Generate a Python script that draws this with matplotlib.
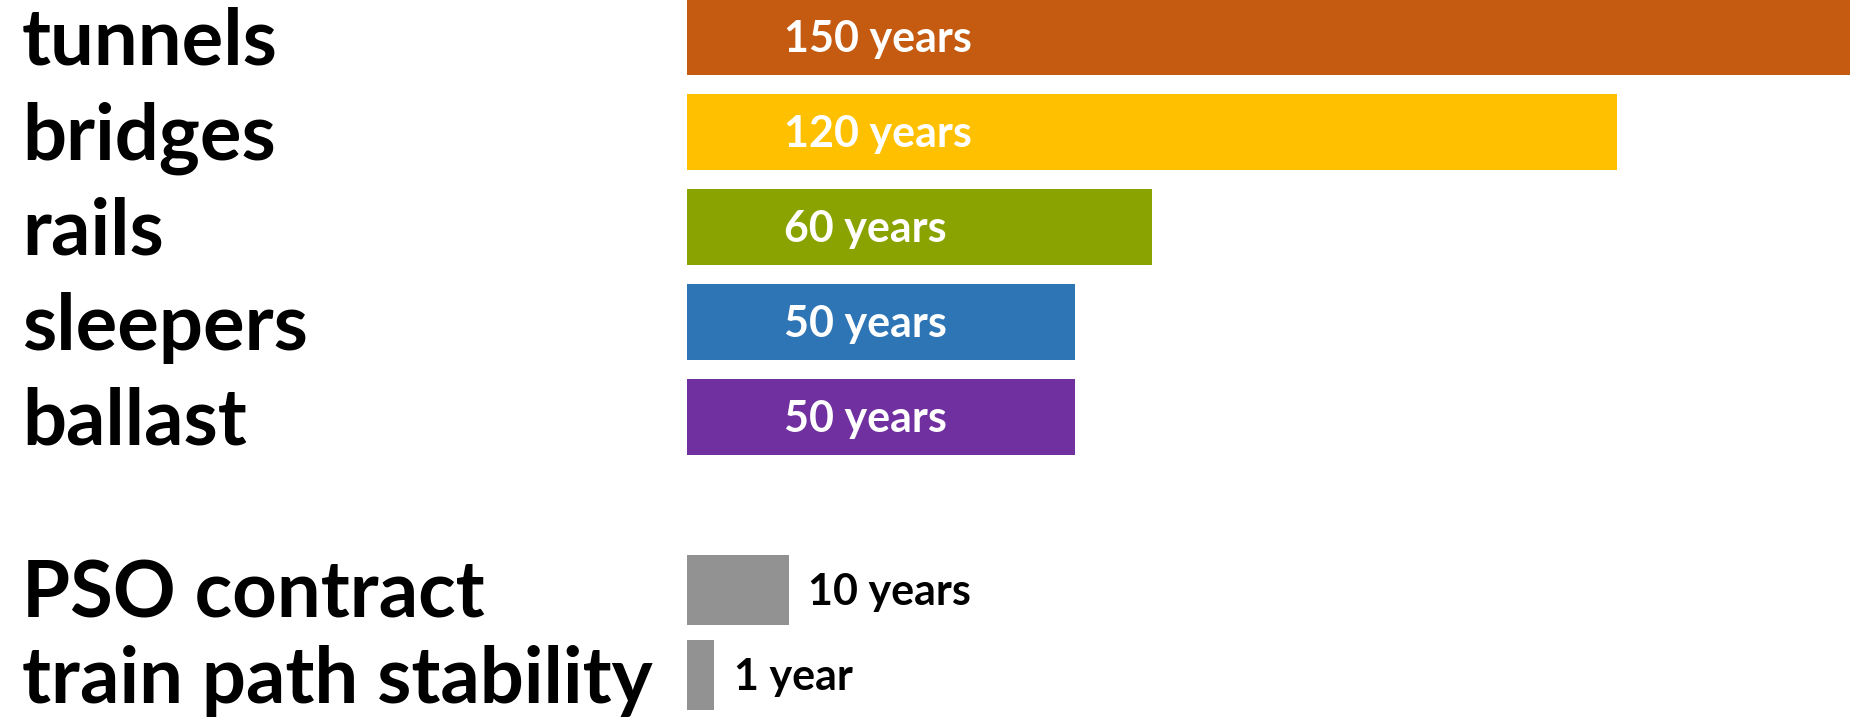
import matplotlib.pyplot as plt
from matplotlib import transforms

# asset lifetimes (top group, drawn to scale)
assets = ["tunnels", "bridges", "rails", "sleepers", "ballast"]
asset_years = [150, 120, 60, 50, 50]
asset_colors = ["#C55A11", "#FFC000", "#8BA300", "#2E75B6", "#7030A0"]

# commitments (bottom group, bars drawn wider than scale in the original)
commit = ["PSO contract", "train path stability"]
commit_years = [10, 1]
commit_bar_len = [13.1, 3.5]
commit_labels = ["10 years", "1 year"]

W, H = 1850, 718
fig = plt.figure(figsize=(W / 100, H / 100), dpi=100)
plt.rcParams['font.family'] = ['Lato', 'DejaVu Sans']

left = 687 / W
width = 1 - left

# top axes: row pitch 95 px, first row centred at y=37
ax1 = fig.add_axes([left, (H - 464.5) / H, width, 475 / H])
ax1.barh(range(len(assets)), asset_years, height=0.81, color=asset_colors)
ax1.set_xlim(0, 150)
ax1.set_ylim(4.5, -0.5)

# bottom axes: row pitch 85 px, first row centred at y=590
ax2 = fig.add_axes([left, (H - 717.5) / H, width, 170 / H])
ax2.barh(range(len(commit)), commit_bar_len, height=0.82, color="#929292")
ax2.set_xlim(0, 150)
ax2.set_ylim(1.5, -0.5)

for ax in (ax1, ax2):
    ax.axis("off")

cat_size = 56
val_size = 31

def label_trans(ax, dx_pt, dy_pt):
    base = transforms.blended_transform_factory(fig.transFigure, ax.transData)
    return transforms.offset_copy(base, fig=fig, x=dx_pt, y=dy_pt, units='points')

for i, name in enumerate(assets):
    ax1.text(22 / W, i, name, transform=label_trans(ax1, 0, -20),
             fontsize=cat_size, fontweight='bold', ha='left', va='baseline')
    vt = transforms.offset_copy(ax1.transData, fig=fig, x=70, y=-10.5, units='points')
    ax1.text(0, i, f"{asset_years[i]} years", transform=vt, color='white',
             fontsize=val_size, fontweight='bold', ha='left', va='baseline')

for i, name in enumerate(commit):
    ax2.text(22 / W, i, name, transform=label_trans(ax2, 0, -20),
             fontsize=cat_size, fontweight='bold', ha='left', va='baseline')
    vt = transforms.offset_copy(ax2.transData, fig=fig, x=14, y=-11, units='points')
    ax2.text(commit_bar_len[i], i, commit_labels[i], transform=vt, color='black',
             fontsize=val_size, fontweight='bold', ha='left', va='baseline')

fig.savefig("out.png", dpi=100)
